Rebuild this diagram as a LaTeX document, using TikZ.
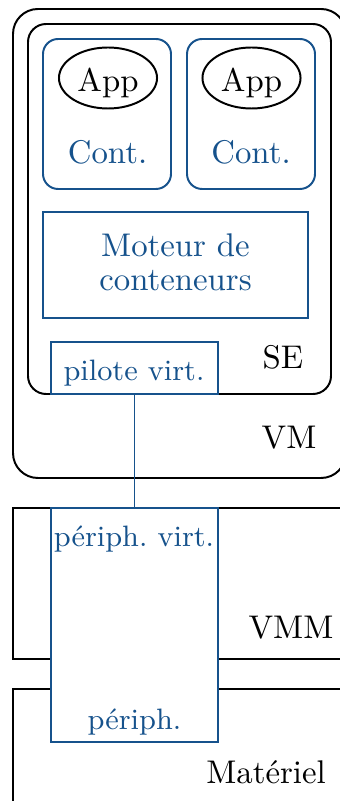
\documentclass[tikz,border=0pt]{standalone}
\usetikzlibrary{positioning,shapes.geometric}
\definecolor{bleu}{RGB}{22,82,140}
\frenchspacing
\tikzset{
  etiq/.style={inner sep=0pt},
  bleutxt/.style={text=bleu, inner sep=0pt},
  petit/.style={bleutxt, font=\small},
  bloc/.style={draw=bleu, semithick, rectangle, inner sep=0pt},
  appli/.style={draw, ellipse, semithick, inner sep=0pt, minimum width=29.9pt,
    minimum height=18.6pt, text height=8pt, text depth=0pt}
}
\begin{document}
\begin{tikzpicture}[x=0.3049pt,y=-0.3049pt,semithick]
\useasboundingbox (0,0) rectangle (339,801);
% VM et SE
\draw[rounded corners=7.6pt] (13,9) rectangle (346,478);
\draw[rounded corners=5.5pt] (28,24) rectangle (331,394);
\node[etiq,anchor=base] (vm) at (289,448) {VM};
\node[etiq,anchor=base] (se) at (283,368) {SE};
% conteneurs
\draw[bleu,rounded corners=4.6pt] (43,39) rectangle (171,189);
\draw[bleu,rounded corners=4.6pt] (187,39) rectangle (315,189);
\node[appli] (app1) at (108,78) {App};
\node[appli] (app2) at (251.5,78) {App};
\node[bleutxt,anchor=base] (cont1) at (107.5,164) {Cont.};
\node[bleutxt,anchor=base] (cont2) at (251,164) {Cont.};
\draw[bleu] (43,212) rectangle (308,318);
\node[bleutxt,align=center,font=\fontsize{10pt}{10.4pt}\selectfont] (moteur) at (175.5,262.6) {Moteur de\\conteneurs};
\node[bloc,minimum width=50.9pt,minimum height=15.9pt] (pilote) at (134.5,368) {};
\node[petit,anchor=base] (pilote-txt) at (134,380) {pilote virt.};
% VMM et materiel
\draw (346,508) -- (13,508) -- (13,659) -- (346,659);
\draw (346,689) -- (13,689) -- (13,805);
\node[etiq,anchor=base] (vmm) at (291,638) {VMM};
\node[etiq,anchor=base] (mat) at (266,783) {Matériel};
\node[bloc,fill=white,minimum width=50.9pt,minimum height=71.3pt] (periph) at (134.5,625) {};
\node[petit,anchor=base] (periph-v) at (134,546) {périph. virt.};
\node[petit,anchor=base] (periph-p) at (134.5,729) {périph.};
\draw[bleu] (pilote.south) -- (periph.north);
\end{tikzpicture}
\end{document}
